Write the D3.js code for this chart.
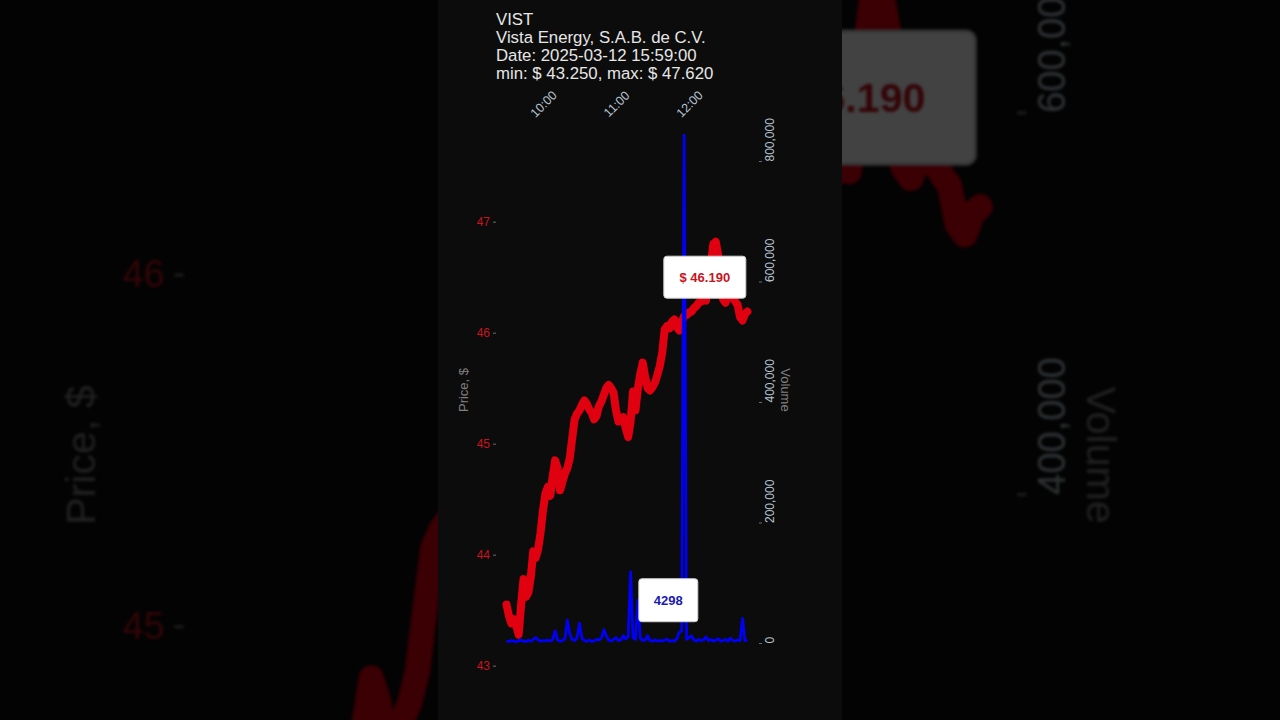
<!DOCTYPE html>
<html><head><meta charset="utf-8">
<script src="https://cdn.jsdelivr.net/npm/d3@7"></script>
<style>html,body{margin:0;padding:0;background:#000;overflow:hidden}</style>
</head><body>
<svg id="s" width="1280" height="720" xmlns="http://www.w3.org/2000/svg"></svg>
<script>
// ---- data ----
const titleLines = ["VIST", "Vista Energy, S.A.B. de C.V.", "Date: 2025-03-12 15:59:00", "min: $ 43.250, max: $ 47.620"];
const sessionStart = "2025-03-12 09:30";
const stepMinutes = 2;
const prices = [
  43.55, 43.45, 43.38, 43.42, 43.36, 43.28, 43.55, 43.78, 43.62, 43.66,
  43.80, 44.03, 43.97, 44.05, 44.20, 44.40, 44.55, 44.61, 44.53, 44.71,
  44.85, 44.78, 44.58, 44.66, 44.73, 44.78, 44.87, 45.05, 45.22, 45.27,
  45.30, 45.35, 45.39, 45.36, 45.31, 45.28, 45.22, 45.25, 45.34, 45.38,
  45.44, 45.50, 45.53, 45.50, 45.46, 45.30, 45.20, 45.23, 45.24, 45.14,
  45.06, 45.20, 45.47, 45.30, 45.50, 45.63, 45.73, 45.60, 45.50, 45.48,
  45.51, 45.55, 45.62, 45.70, 45.82, 46.03, 46.06, 46.04, 46.10, 46.12,
  46.05, 46.02, 46.10, 46.15, 46.16, 46.18, 46.19, 46.22, 46.24, 46.27,
  46.28, 46.30, 46.29, 46.45, 46.62, 46.80, 46.82, 46.70, 46.42, 46.30,
  46.27, 46.32, 46.36, 46.32, 46.28, 46.25, 46.14, 46.11, 46.17, 46.19
];
const volumes = [
  3000, 2500, 4000, 3000, 2000, 3500, 5000, 3000, 2500, 4500,
  3000, 6000, 9000, 5000, 3000, 4000, 3500, 5000, 3000, 6000,
  20000, 5000, 3000, 4000, 7000, 38000, 15000, 6000, 4000, 9000,
  33000, 8000, 4000, 3000, 5000, 2500, 3500, 6000, 5000, 8000,
  22000, 12000, 5000, 3000, 6000, 9000, 4000, 5000, 12000, 7000,
  10000, 118000, 9000, 6000, 71000, 8000, 4000, 5000, 12000, 4000,
  3000, 5000, 3500, 4000, 3000, 5000, 6000, 3000, 4000, 3000,
  7000, 18000, 20000, 843000, 6000, 9000, 12000, 5000, 3000, 6000,
  4000, 5000, 10000, 4000, 6000, 3000, 5000, 7000, 3000, 4000,
  6000, 3000, 8000, 4000, 3000, 5000, 4000, 41000, 4000, 4298
];
const priceTicks = [43, 44, 45, 46, 47];
const volumeTicks = [0, 200000, 400000, 600000, 800000];
const timeTicks = ["10:00", "11:00", "12:00"];
const priceLabel = { time: "12:13", value: 46.50, text: "$ 46.190" };
const volumeLabel = { time: "11:43", value: 71000, text: "4298" };

// ---- build ----
const parse = d3.timeParse("%Y-%m-%d %H:%M");
const day = "2025-03-12 ";
const t0 = parse(sessionStart);
const rows = prices.map((p, i) => ({ t: d3.timeMinute.offset(t0, i * stepMinutes), p, v: volumes[i] }));

const svg = d3.select("#s");
const FONT = "'Liberation Sans', Arial, sans-serif";
const defs = svg.append("defs");
const f = defs.append("filter").attr("id", "dim")
  .attr("color-interpolation-filters", "sRGB")
  .attr("filterUnits", "userSpaceOnUse").attr("x", 0).attr("y", 0).attr("width", 1280).attr("height", 720);
f.append("feGaussianBlur").attr("stdDeviation", 1.6);
const ct = f.append("feComponentTransfer");
["R", "G", "B"].forEach(c => ct.append("feFunc" + c).attr("type", "linear").attr("slope", 0.26));

const bg = svg.append("g").attr("filter", "url(#dim)");
const chart = svg.append("g").attr("id", "chart");

const sc = 1280 / 404;
bg.append("use").attr("href", "#chart")
  .attr("transform", `translate(640,360) scale(${sc}) translate(-640,-360)`);

chart.append("rect").attr("x", 438).attr("y", 0).attr("width", 404).attr("height", 720).attr("fill", "#0c0c0c");

const x = d3.scaleTime().domain([parse(day + "09:30"), parse(day + "12:30")]).range([506.5, 725.5]);
const yP = d3.scaleLinear().domain([42.8, 47.8]).range([687.9, 132.9]);
const yV = d3.scaleLinear().domain([0, 900000]).range([643, 100.75]);

// title
chart.append("g").selectAll("text").data(titleLines).join("text")
  .attr("x", 496).attr("y", (d, i) => 25 + i * 18.1)
  .attr("fill", "#e6e6e6").style("font", `16.8px ${FONT}`).text(d => d);

// x axis (top)
const xa = chart.append("g").attr("transform", "translate(0,104)")
  .call(d3.axisTop(x).tickValues(timeTicks.map(s => parse(day + s))).tickFormat(d3.timeFormat("%H:%M")).tickSize(0));
xa.select(".domain").remove();
xa.selectAll("text").attr("x", 0).attr("y", 0).attr("dy", "0.35em")
  .attr("text-anchor", "middle").attr("transform", "rotate(-45)")
  .attr("fill", "#b6c4d0").style("font", `12.5px ${FONT}`);

// price axis
const pa = chart.append("g").attr("transform", "translate(496,0)")
  .call(d3.axisLeft(yP).tickValues(priceTicks).tickFormat(d3.format("d")).tickSize(3).tickPadding(3));
pa.select(".domain").remove();
pa.selectAll("line").attr("stroke", "#6a6a6a");
pa.selectAll("text").attr("fill", "#c8141e").style("font", `12px ${FONT}`);
chart.append("text").attr("transform", "translate(468,390) rotate(-90)")
  .attr("text-anchor", "middle").attr("fill", "#808080").style("font", `13px ${FONT}`).text("Price, $");

// volume axis
const va = chart.append("g").attr("transform", "translate(759,0)")
  .call(d3.axisRight(yV).tickValues(volumeTicks).tickSize(3).tickFormat(d3.format(",")));
va.select(".domain").remove();
va.selectAll("line").attr("stroke", "#6a6a6a");
va.selectAll("text").attr("x", 0).attr("y", 15).attr("dy", 0).attr("text-anchor", "start")
  .attr("transform", "rotate(-90)").attr("fill", "#b6c4d0").style("font", `12px ${FONT}`);
chart.append("text").attr("transform", "translate(781,390) rotate(90)")
  .attr("text-anchor", "middle").attr("fill", "#808080").style("font", `13px ${FONT}`).text("Volume");

// lines
chart.append("path").datum(rows)
  .attr("d", d3.line().x(d => x(d.t)).y(d => yP(d.p)))
  .attr("fill", "none").attr("stroke", "#e1000f").attr("stroke-width", 8)
  .attr("stroke-linejoin", "round").attr("stroke-linecap", "round");
chart.append("path").datum(rows)
  .attr("d", d3.line().x(d => x(d.t)).y(d => yV(d.v)))
  .attr("fill", "none").attr("stroke", "#0000f5").attr("stroke-width", 2.8)
  .attr("stroke-linejoin", "round");

// labels
function box(lbl, yScale, w, h, color) {
  const cx = x(parse(day + lbl.time)), cy = yScale(lbl.value);
  const g = chart.append("g").attr("transform", `translate(${cx},${cy})`);
  g.append("rect").attr("x", -w / 2).attr("y", -h / 2).attr("width", w).attr("height", h)
    .attr("rx", 3).attr("fill", "#ffffff").attr("stroke", "#cfcfcf").attr("stroke-width", 1);
  g.append("text").attr("text-anchor", "middle").attr("dy", "0.36em")
    .attr("fill", color).style("font", `bold 13px ${FONT}`).text(lbl.text);
}
box(priceLabel, yP, 82, 42, "#c8141e");
box(volumeLabel, yV, 59, 43, "#1a1ab4");
</script>
</body></html>
